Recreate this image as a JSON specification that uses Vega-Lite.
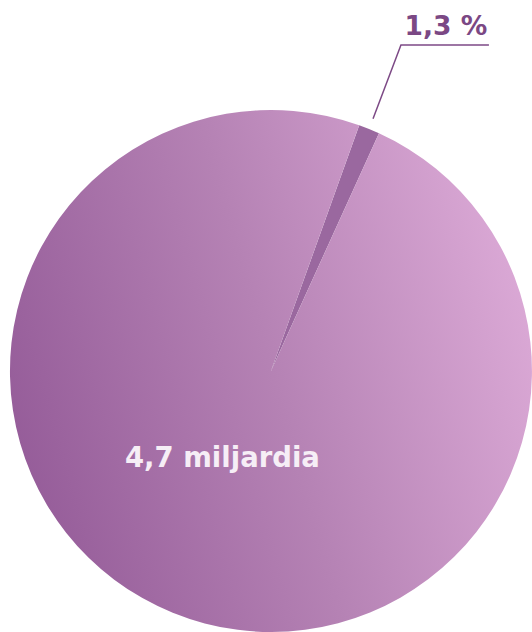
{
  "$schema": "https://vega.github.io/schema/vega-lite/v6.json",
  "width": 532,
  "height": 632,
  "padding": 0,
  "autosize": {"type": "fit", "contains": "padding"},
  "background": "white",
  "config": {"view": {"stroke": null}},
  "layer": [
    {
      "data": {"values": [
        {"osuus": "pieni", "arvo": 1.3, "jarjestys": 1},
        {"osuus": "suuri", "arvo": 98.7, "jarjestys": 2}
      ]},
      "mark": {"type": "arc", "outerRadius": 261, "strokeWidth": 0},
      "encoding": {
        "x": {"datum": 0, "type": "quantitative", "scale": {"domain": [-1.038, 1.0], "nice": false, "zero": false}, "axis": null},
        "y": {"datum": 0, "type": "quantitative", "scale": {"domain": [-1.0, 1.421], "nice": false, "zero": false}, "axis": null},
        "theta": {"field": "arvo", "type": "quantitative", "stack": true, "scale": {"range": [0.345, 6.628]}},
        "order": {"field": "jarjestys", "type": "quantitative"},
        "fill": {
          "condition": {
            "test": "datum.osuus === 'suuri'",
            "value": {
              "gradient": "linear",
              "x1": 0, "y1": 0.64, "x2": 1, "y2": 0.36,
              "stops": [
                {"offset": 0, "color": "#955c99"},
                {"offset": 0.5, "color": "#b582b4"},
                {"offset": 1, "color": "#dba9d6"}
              ]
            }
          },
          "value": "#9a689f"
        }
      }
    },
    {
      "data": {"values": [
        {"px": 0.391, "py": 0.966, "n": 1},
        {"px": 0.498, "py": 1.249, "n": 2},
        {"px": 0.835, "py": 1.249, "n": 3}
      ]},
      "mark": {"type": "line", "color": "#7d4a86", "strokeWidth": 1.5},
      "encoding": {
        "x": {"field": "px", "type": "quantitative"},
        "y": {"field": "py", "type": "quantitative"},
        "order": {"field": "n", "type": "quantitative"}
      }
    },
    {
      "data": {"values": [
        {"px": 0.67, "py": 1.287, "teksti": "1,3 %"}
      ]},
      "mark": {"type": "text", "font": "DejaVu Sans", "fontWeight": "bold", "fontSize": 26.5, "color": "#7b4884", "align": "center", "baseline": "alphabetic"},
      "encoding": {
        "x": {"field": "px", "type": "quantitative"},
        "y": {"field": "py", "type": "quantitative"},
        "text": {"field": "teksti"}
      }
    },
    {
      "data": {"values": [
        {"px": -0.186, "py": -0.368, "teksti": "4,7 miljardia"}
      ]},
      "mark": {"type": "text", "font": "DejaVu Sans", "fontWeight": "bold", "fontSize": 27.5, "color": "#f6eef6", "align": "center", "baseline": "alphabetic"},
      "encoding": {
        "x": {"field": "px", "type": "quantitative"},
        "y": {"field": "py", "type": "quantitative"},
        "text": {"field": "teksti"}
      }
    }
  ]
}
